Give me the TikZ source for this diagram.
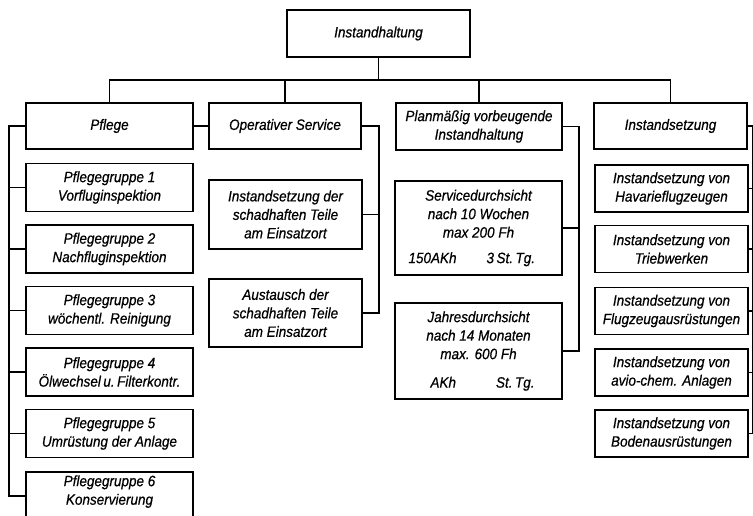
\documentclass[tikz,border=0pt]{standalone}
\usepackage{fontspec}
\setmainfont{Liberation Sans}[FakeStretch=0.9, FakeBold=0.6]
\begin{document}
\begin{tikzpicture}[x=1pt,y=-1pt,
  box/.style={draw, line width=1.9pt, inner sep=0pt, align=center,
    font=\fontsize{15}{18.5}\selectfont\itshape},
  conn/.style={line width=1.4pt},
  pbox/.style={box, minimum width=167pt, minimum height=48pt},
  ibox/.style={box, minimum width=153pt, minimum height=47pt}]
\useasboundingbox (0,0) rectangle (753,515);
\clip (0,0) rectangle (753,515);
% top
\node[box, minimum width=183pt, minimum height=47pt] (top) at (378.5,33.5) {Instandhaltung};
% level 1
\node[box, minimum width=167pt, minimum height=46pt] (pflege) at (109.5,126) {Pflege};
\node[box, minimum width=152pt, minimum height=46pt] (oper) at (285,126) {Operativer Service};
\node[box, minimum width=166pt, minimum height=47pt] (plan) at (479,126.5) {Planmäßig vorbeugende\\Instandhaltung};
\node[box, minimum width=153pt, minimum height=46pt] (inst) at (670.5,126) {Instandsetzung};
% Pflege column
\node[pbox] (pg1) at (109.5,187.5) {Pflegegruppe 1\\Vorfluginspektion};
\node[pbox] (pg2) at (109.5,249) {Pflegegruppe 2\\Nachfluginspektion};
\node[pbox] (pg3) at (109.5,310.5) {Pflegegruppe 3\\wöchentl. Reinigung};
\node[pbox] (pg4) at (109.5,372) {Pflegegruppe 4\\Ölwechsel\,u.\,Filterkontr.};
\node[pbox] (pg5) at (109.5,433.5) {Pflegegruppe 5\\Umrüstung der Anlage};
\node[pbox, text depth=12pt] (pg6) at (109.5,496) {Pflegegruppe 6\\Konservierung};
% Operativer Service column
\node[box, minimum width=153pt, minimum height=69pt] (ider) at (285.5,214.5) {Instandsetzung der\\schadhaften Teile\\am Einsatzort};
\node[box, minimum width=153pt, minimum height=68pt] (aus) at (285.5,313) {Austausch der\\schadhaften Teile\\am Einsatzort};
% Planmaessig column
\node[box, minimum width=167pt, minimum height=94pt] (serv) at (478.5,228) {Servicedurchsicht\\nach 10 Wochen\\max 200 Fh\\[7pt]\makebox[160pt][l]{\hspace{10pt}150AKh\hspace{30pt}3\,St.\,Tg.}};
\node[box, minimum width=167pt, minimum height=96pt] (jahr) at (478.5,351) {Jahresdurchsicht\\nach 14 Monaten\\max. 600 Fh\\[10pt]\makebox[160pt][l]{\hspace{32pt}AKh\hspace{40pt}St.\,Tg.}};
% Instandsetzung column
\node[ibox] (is1) at (671.5,188.5) {Instandsetzung von\\Havarieflugzeugen};
\node[ibox] (is2) at (671.5,249) {Instandsetzung von\\Triebwerken};
\node[ibox] (is3) at (671.5,311) {Instandsetzung von\\Flugzeugausrüstungen};
\node[ibox] (is4) at (671.5,372.5) {Instandsetzung von\\avio-chem. Anlagen};
\node[ibox] (is5) at (671.5,433.5) {Instandsetzung von\\Bodenausrüstungen};
% connectors: top level
\draw[conn] (top.south) -- ++(0,22) coordinate (hub);
\draw[conn] (pflege.north) |- (hub) -| (inst.north);
\draw[conn] (oper.north) -- (oper.north |- hub);
\draw[conn] (plan.north) -- (plan.north |- hub);
% Pflege bus
\draw[conn] (pflege.west) -- ++(-16,0) coordinate (pb) |- (pg6.west);
\foreach \n in {pg1,pg2,pg3,pg4,pg5} \draw[conn] (\n.west) -- (pb |- \n.west);
\draw[conn] (pflege.east) -- (oper.west);
% Operativer bus
\draw[conn] (oper.east) -- ++(17,0) coordinate (ob) |- (aus.east);
\draw[conn] (ider.east) -- (ob |- ider.east);
% Planmaessig bus
\draw[conn] (plan.east) -- ++(16,0) coordinate (qb) |- (jahr.east);
\draw[conn] (serv.east) -- (qb |- serv.east);
% Instandsetzung bus
\draw[conn] (inst.east) -- ++(5,0) coordinate (ib) |- (is5.east);
\foreach \n in {is1,is2,is3,is4} \draw[conn] (\n.east) -- (ib |- \n.east);
\end{tikzpicture}
\end{document}
